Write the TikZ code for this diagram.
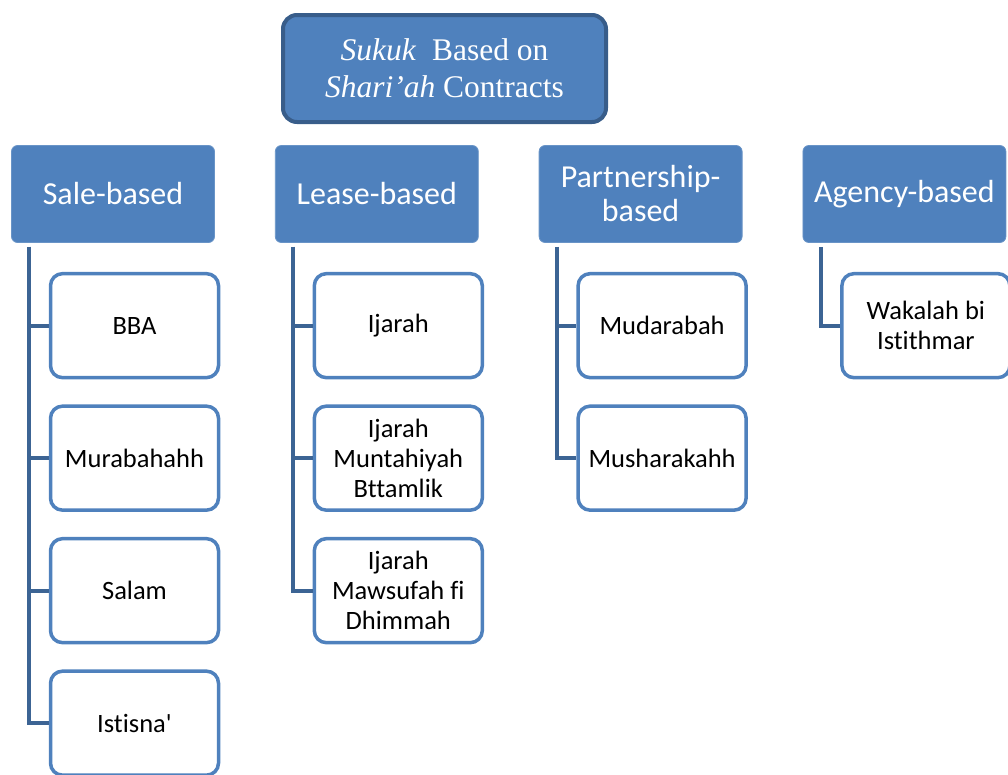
\documentclass[tikz,border=0pt]{standalone}
\usepackage{fontspec}
\newfontfamily\calibri[Ligatures=NoCommon]{Carlito}
\newfontfamily\timesrm{Liberation Serif}
\usetikzlibrary{positioning}
\definecolor{boxblue}{HTML}{4F81BD}
\definecolor{edgeblue}{HTML}{385D8A}
\definecolor{linkblue}{HTML}{3C6494}

\begin{document}
\begin{tikzpicture}[
  x=1pt, y=1pt,
  title/.style={draw=edgeblue, line width=4pt, fill=boxblue, rounded corners=14pt, text=white, align=center, minimum width=323pt, minimum height=107pt, font=\timesrm\fontsize{31.5}{37}\selectfont},
  group/.style={draw=boxblue!85!white, line width=0.8pt, fill=boxblue, rounded corners=6pt, text=white, align=center, minimum width=203pt, minimum height=97pt, font=\calibri\fontsize{32}{34}\selectfont},
  leaf/.style={draw=boxblue, line width=3.5pt, fill=white, rounded corners=12pt, align=center, minimum width=168pt, minimum height=104pt, font=\calibri\fontsize{26.5}{30}\selectfont},
  link/.style={draw=linkblue, line width=4pt}
]
\useasboundingbox (0,0) rectangle (1008,-774);

\node[title] (top) at (444.5,-68.5) {\textit{Sukuk}\ \ Based on\\\textit{Shari’ah} Contracts};

\node[group] (sale) at (113,-194) {Sale-based};
\node[group, right=60pt of sale] (lease) {Lease-based};
\node[group, right=60pt of lease] (partner) {Partnership-\\based};
\node[group, right=60pt of partner] (agency) {Agency-based};

% sale-based contracts
\node[leaf, below=29pt of sale.south, xshift=21.5pt] (bba) {BBA};
\node[leaf, below=25pt of bba] (murabahah) {Murabahahh};
\node[leaf, below=25pt of murabahah] (salam) {Salam};
\node[leaf, below=25pt of salam] (istisna) {Istisna'};

% lease-based contracts
\node[leaf, below=29pt of lease.south, xshift=21.5pt] (ijarah) {Ijarah};
\node[leaf, below=25pt of ijarah] (imbt) {Ijarah\\Muntahiyah\\Bttamlik};
\node[leaf, below=25pt of imbt] (imfd) {Ijarah\\Mawsufah fi\\Dhimmah};

% partnership-based contracts
\node[leaf, below=29pt of partner.south, xshift=21.5pt] (mudarabah) {Mudarabah};
\node[leaf, below=25pt of mudarabah] (musharakah) {Musharakahh};

% agency-based contracts
\node[leaf, below=29pt of agency.south, xshift=21.5pt] (wakalah) {Wakalah bi\\Istithmar};

\draw[link] ([xshift=18pt, yshift=-4pt]sale.south west) |- (bba.west);
\draw[link] ([xshift=18pt, yshift=-4pt]sale.south west) |- (murabahah.west);
\draw[link] ([xshift=18pt, yshift=-4pt]sale.south west) |- (salam.west);
\draw[link] ([xshift=18pt, yshift=-4pt]sale.south west) |- (istisna.west);

\draw[link] ([xshift=18pt, yshift=-4pt]lease.south west) |- (ijarah.west);
\draw[link] ([xshift=18pt, yshift=-4pt]lease.south west) |- (imbt.west);
\draw[link] ([xshift=18pt, yshift=-4pt]lease.south west) |- (imfd.west);

\draw[link] ([xshift=18pt, yshift=-4pt]partner.south west) |- (mudarabah.west);
\draw[link] ([xshift=18pt, yshift=-4pt]partner.south west) |- (musharakah.west);

\draw[link] ([xshift=18pt, yshift=-4pt]agency.south west) |- (wakalah.west);

\end{tikzpicture}
\end{document}
